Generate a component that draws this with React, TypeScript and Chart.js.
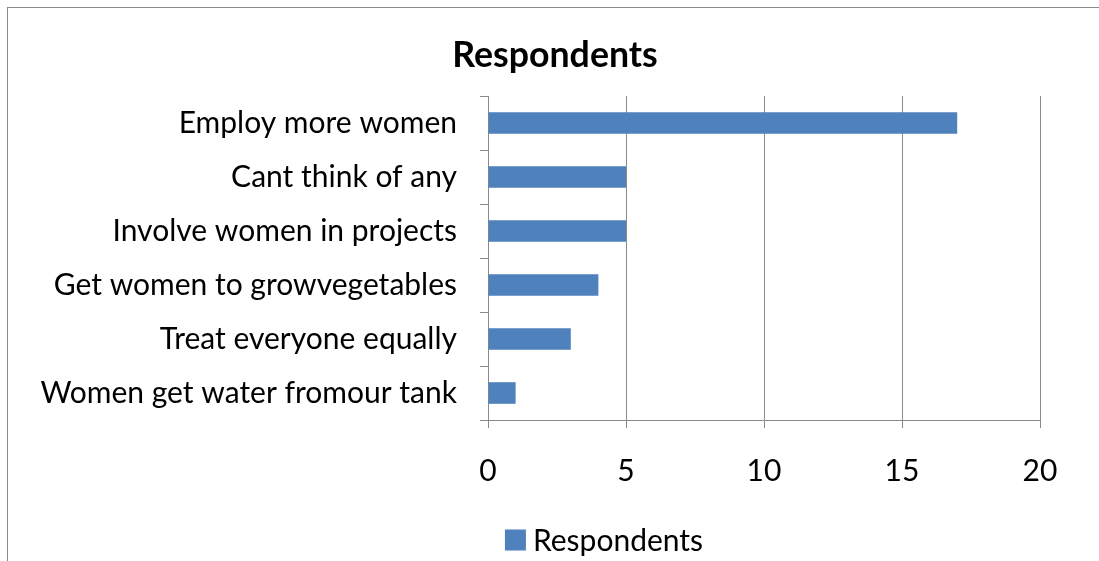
import React, { useEffect, useRef } from "react";
import { Chart, registerables } from "chart.js";

Chart.register(...registerables);

const categories = [
  "Employ more women",
  "Cant think of any",
  "Involve women in projects",
  "Get women to growvegetables",
  "Treat everyone equally",
  "Women get water fromour tank",
];
const respondents = [17, 5, 5, 4, 3, 1];
const xTicks = [0, 5, 10, 15, 20];
const seriesName = "Respondents";
const titleText = "Respondents";

const BAR = "#4F81BD";
const GRID = "#8a8a8a";
const FONT = "Lato, 'Open Sans', sans-serif";

const titlePlugin = {
  id: "customTitle",
  afterDraw(chart: any) {
    const { ctx } = chart;
    ctx.save();
    ctx.font = `bold 35.7px ${FONT}`;
    ctx.fillStyle = "#000";
    ctx.textAlign = "center";
    ctx.textBaseline = "middle";
    ctx.fillText(titleText, chart.width / 2, 47);
    ctx.restore();
  },
};

const legendPlugin = {
  id: "customLegend",
  afterDraw(chart: any) {
    const { ctx } = chart;
    const ds = chart.data.datasets[0];
    ctx.save();
    ctx.font = `30px ${FONT}`;
    const label = ds.label as string;
    const tw = ctx.measureText(label).width;
    const box = 21;
    const gap = 7;
    const total = box + gap + tw;
    const cx = chart.width / 2 + 49;
    const cy = 532;
    const x0 = cx - total / 2;
    ctx.fillStyle = ds.backgroundColor;
    ctx.fillRect(x0, cy - box / 2, box, box);
    ctx.fillStyle = "#000";
    ctx.textBaseline = "middle";
    ctx.textAlign = "left";
    ctx.fillText(label, x0 + box + gap, cy + 1);
    ctx.restore();
  },
};

export default function App() {
  const ref = useRef<HTMLCanvasElement | null>(null);
  useEffect(() => {
    if (!ref.current) return;
    const chart = new Chart(ref.current, {
      type: "bar",
      data: {
        labels: categories,
        datasets: [
          {
            label: seriesName,
            data: respondents,
            backgroundColor: BAR,
            borderWidth: 0,
            barPercentage: 0.4,
            categoryPercentage: 1,
          },
        ],
      },
      options: {
        indexAxis: "y",
        responsive: false,
        animation: false,
        layout: { padding: { left: 0, right: 62, top: 88, bottom: 47 } },
        plugins: {
          legend: { display: false },
          tooltip: { enabled: false },
          title: { display: false },
        },
        scales: {
          x: {
            min: 0,
            max: 20,
            afterBuildTicks: (s: any) => {
              s.ticks = xTicks.map((v) => ({ value: v }));
            },
            grid: {
              color: GRID,
              lineWidth: 1,
              tickLength: 8,
              drawTicks: true,
            },
            border: { display: true, color: GRID, width: 1 },
            ticks: {
              color: "#000",
              padding: 25,
              font: { family: FONT, size: 30 },
            },
          },
          y: {
            afterFit: (s: any) => {
              s.width = 480;
            },
            grid: {
              color: GRID,
              drawOnChartArea: false,
              tickLength: 8,
              offset: true,
            },
            border: { display: true, color: GRID, width: 1 },
            ticks: {
              color: "#000",
              padding: 23,
              font: { family: FONT, size: 30 },
            },
          },
        },
      },
      plugins: [titlePlugin, legendPlugin],
    });
    return () => chart.destroy();
  }, []);

  return (
    <div
      style={{
        position: "fixed",
        left: 0,
        top: 0,
        width: 1099,
        height: 561,
        overflow: "hidden",
        background: "#fff",
      }}
    >
      <div
        style={{
          position: "absolute",
          left: 7,
          top: 7,
          width: 1120,
          height: 600,
          borderTop: "1px solid #8a8a8a",
          borderLeft: "1px solid #8a8a8a",
        }}
      >
        <canvas ref={ref} width={1094} height={553} style={{ display: "block" }} />
      </div>
    </div>
  );
}
